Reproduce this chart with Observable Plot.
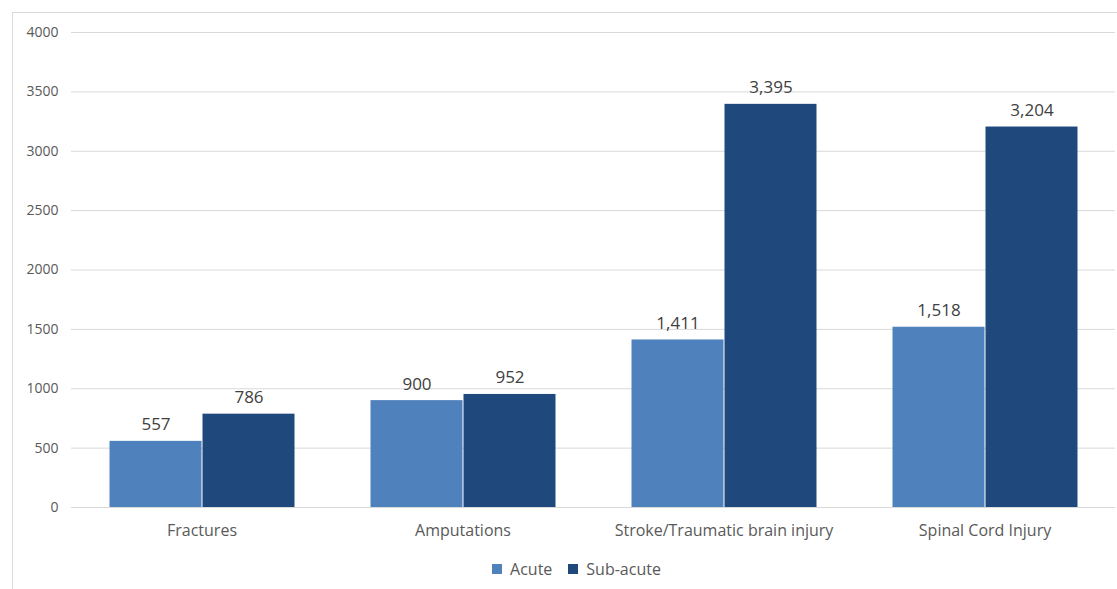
<!DOCTYPE html>
<html>
<head>
<meta charset="utf-8">
<script src="https://cdn.jsdelivr.net/npm/d3@7"></script>
<script src="https://cdn.jsdelivr.net/npm/@observablehq/plot@0.6"></script>
<style>
  body { margin: 0; background: #fff; font-family: "Open Sans", sans-serif; }
  #frame { position: absolute; left: 12px; top: 12px; width: 1200px; height: 700px;
           border: 1px solid #d9d9d9; box-sizing: border-box; }
  #chart { position: absolute; left: 0; top: 0; }
  #legend { position: absolute; left: 0; top: 552px; width: 1117px;
            display: flex; justify-content: center; padding-left: 52px; box-sizing: border-box; }
</style>
</head>
<body>
<div id="frame"></div>
<div id="chart"></div>
<div id="legend"></div>
<script>
// Patients by injury type and rehabilitation phase
const categories = ["Fractures", "Amputations", "Stroke/Traumatic brain injury", "Spinal Cord Injury"];
const series = ["Acute", "Sub-acute"];
const acute = [557, 900, 1411, 1518];
const subAcute = [786, 952, 3395, 3204];
const yTicks = [0, 500, 1000, 1500, 2000, 2500, 3000, 3500, 4000];
const colors = ["#4f81bd", "#1f497d"];

const data = categories.flatMap((c, i) => [
  {category: c, series: "Acute", value: acute[i]},
  {category: c, series: "Sub-acute", value: subAcute[i]}
]);

const fmt = d3.format(",");
const font = "'Open Sans', sans-serif";

const chart = Plot.plot({
  width: 1117,
  height: 550,
  marginLeft: 70,
  marginRight: 2,
  marginTop: 32,
  marginBottom: 43,
  style: {fontFamily: font, background: "transparent", overflow: "visible"},
  fx: {domain: categories, padding: 0, label: null, axis: null},
  x: {domain: series, paddingInner: 0, paddingOuter: 0.4, axis: null},
  y: {domain: [0, 4000], label: null},
  color: {domain: series, range: colors},
  marks: [
    Plot.ruleY(yTicks, {stroke: "#d9d9d9", strokeWidth: 1}),
    Plot.barY(data, {fx: "category", x: "series", y: "value", fill: "series", insetLeft: 0.5, insetRight: 0.5}),
    Plot.text(data, {
      fx: "category", x: "series", y: "value",
      text: d => fmt(d.value),
      lineAnchor: "bottom", dy: -11, fontSize: 17, fill: "#404040"
    }),
    Plot.axisY(yTicks, {tickSize: 0, tickPadding: 13, fontSize: 14, fill: "#595959", tickFormat: d => String(d), label: null}),
    Plot.axisFx({anchor: "bottom", tickSize: 0, tickPadding: 17, fontSize: 16, fill: "#595959", label: null})
  ]
});
document.getElementById("chart").append(chart);

const legend = Plot.legend({
  color: {domain: series, range: colors},
  swatchSize: 10,
  style: {fontFamily: font, fontSize: "16px", color: "#595959"}
});
document.getElementById("legend").append(legend);
</script>
</body>
</html>
